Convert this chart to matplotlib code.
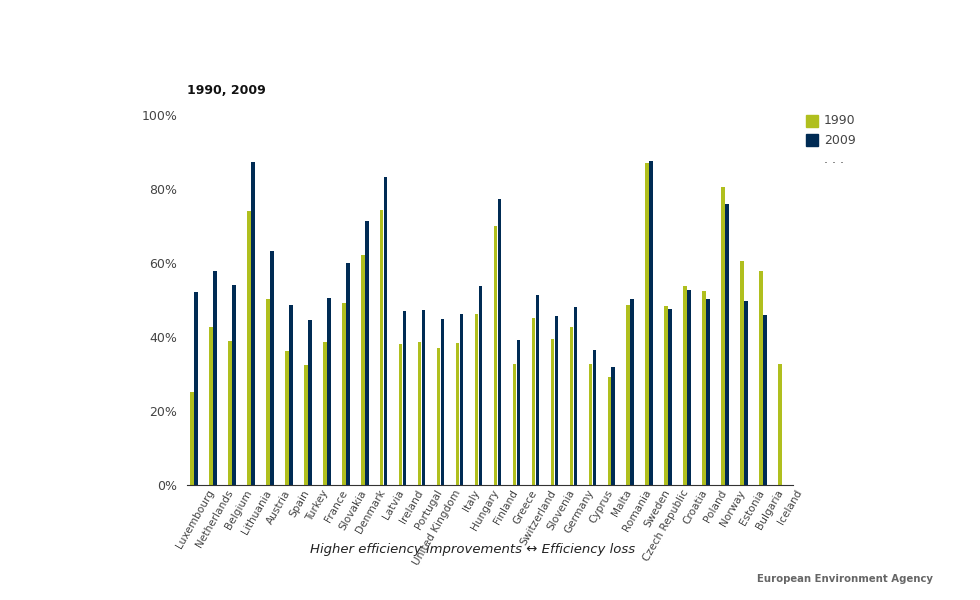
import matplotlib
matplotlib.use('Agg')
import matplotlib.pyplot as plt
import matplotlib.transforms as mtrans
import numpy as np

countries = ['Luxembourg', 'Netherlands', 'Belgium', 'Lithuania', 'Austria', 'Spain',
             'Turkey', 'France', 'Slovakia', 'Denmark', 'Latvia', 'Ireland', 'Portugal',
             'United Kingdom', 'Italy', 'Hungary', 'Finland', 'Greece', 'Switzerland',
             'Slovenia', 'Germany', 'Cyprus', 'Malta', 'Romania', 'Sweden',
             'Czech Republic', 'Croatia', 'Poland', 'Norway', 'Estonia', 'Bulgaria', 'Iceland']
v1990 = [25.1, 42.7, 38.9, 74.1, 50.3, 36.2, 32.4, 38.6, 49.2, 62.2, 74.3, 38.1, 38.6,
         37.0, 38.4, 46.2, 70.0, 32.7, 45.1, 39.5, 42.7, 32.7, 29.2, 48.6, 87.0,
         48.4, 53.8, 52.4, 80.5, 60.5, 57.8, 32.7]
v2009 = [52.2, 57.8, 54.1, 87.3, 63.2, 48.6, 44.6, 50.5, 60.0, 71.4, 83.2, 47.0, 47.3,
         44.9, 46.2, 53.8, 77.3, 39.2, 51.4, 45.7, 48.1, 36.5, 31.9, 50.3, 87.6,
         47.6, 52.7, 50.3, 75.9, 49.7, 46.0, np.nan]
yticks = [0, 20, 40, 60, 80, 100]

c1990 = '#b0bf1e'
c2009 = '#002b54'
grey = '#444444'

fig = plt.figure(figsize=(9.8, 6), dpi=100)
ax = fig.add_axes([187/980, 1-485/600, (793-187)/980, (485-115)/600])

x = np.arange(len(countries))
w = 0.19
ax.bar(x - 0.105, v1990, width=w, color=c1990, label='1990')
ax.bar(x + 0.105, v2009, width=w, color=c2009, label='2009')

ax.set_xlim(-0.37, len(countries) - 1 + 0.58)
ax.set_ylim(0, 100)
ax.set_yticks(yticks)
ax.set_yticklabels([f'{t}%' for t in yticks], fontsize=9, color=grey)
ax.set_xticks(x)
ax.set_xticklabels(countries, rotation=60, ha='right', va='center',
                   rotation_mode='anchor', fontsize=7.6, color=grey)
ax.tick_params(axis='y', length=0, pad=7)
ax.tick_params(axis='x', length=0, pad=4)
# shift the rotated labels so their ends sit right of the bars, as in the original
shift = mtrans.ScaledTranslation(18/100, 0, fig.dpi_scale_trans)
for lab in ax.get_xticklabels():
    lab.set_transform(lab.get_transform() + shift)
for s in ['top', 'right', 'left']:
    ax.spines[s].set_visible(False)
ax.spines['bottom'].set_color('#333333')

fig.text(473/980, 1-550/600, 'Higher efficiency improvements \u2194 Efficiency loss',
         fontsize=9.5, style='italic', color='#222222', ha='center', va='center')

fig.text(187/980, 1-90/600, '1990, 2009', fontsize=9, fontweight='bold',
         color='#111111', va='center')

# legend
fig.patches.append(plt.Rectangle((806/980, 1-127/600), 12/980, 12/600,
                                 transform=fig.transFigure, color=c1990))
fig.patches.append(plt.Rectangle((806/980, 1-146/600), 12/980, 12/600,
                                 transform=fig.transFigure, color=c2009))
fig.text(824/980, 1-121/600, '1990', fontsize=9, color=grey, va='center')
fig.text(824/980, 1-140/600, '2009', fontsize=9, color=grey, va='center')
fig.text(824/980, 1-160/600, '. . .', fontsize=9, color=grey, va='center')

fig.text(757/980, 1-579/600, 'European Environment Agency', fontsize=7.3,
         fontweight='bold', color='#666666', va='center')

fig.savefig('out.png', dpi=100)
